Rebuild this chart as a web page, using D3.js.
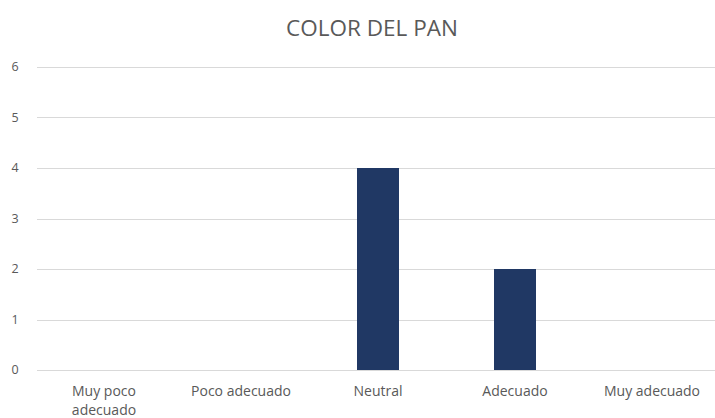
<!DOCTYPE html>
<html><head><meta charset="utf-8">
<script src="https://cdn.jsdelivr.net/npm/d3@7"></script>
<style>body{margin:0;background:#fff}svg{display:block}</style>
</head><body>
<script>
const categories = ["Muy poco adecuado", "Poco adecuado", "Neutral", "Adecuado", "Muy adecuado"];
const values = [0, 0, 4, 2, 0];
const yTicks = [0, 1, 2, 3, 4, 5, 6];
const title = "COLOR DEL PAN";

const W = 715, H = 418;
const svg = d3.select("body").append("svg").attr("width", W).attr("height", H);
const font = "'Open Sans', sans-serif";
const textColor = "#595959";

const x = d3.scaleBand().domain(categories).range([35.5, 720.5]).padding(0);
const y = d3.scaleLinear().domain([0, 6]).range([370, 67]);

// gridlines
svg.append("g").selectAll("line").data(yTicks).join("line")
  .attr("x1", 37).attr("x2", W)
  .attr("y1", d => Math.round(y(d)) + 0.5).attr("y2", d => Math.round(y(d)) + 0.5)
  .attr("stroke", "#d9d9d9").attr("stroke-width", 1);

// y labels
svg.append("g").selectAll("text").data(yTicks).join("text")
  .attr("x", 15).attr("y", d => y(d)).attr("dy", "0.35em")
  .attr("text-anchor", "middle")
  .attr("font-family", font).attr("font-size", 12.5).attr("fill", textColor)
  .text(d => d);

// bars
const bw = 42;
svg.append("g").selectAll("rect").data(categories.map((c, i) => ({c, v: values[i]})).filter(d => d.v > 0)).join("rect")
  .attr("x", d => x(d.c) + x.bandwidth() / 2 - bw / 2)
  .attr("width", bw)
  .attr("y", d => y(d.v))
  .attr("height", d => y(0) - y(d.v))
  .attr("fill", "#203864");

// x labels
const xl = svg.append("g");
categories.forEach(c => {
  const cx = x(c) + x.bandwidth() / 2;
  let lines = [c];
  if (c === "Muy poco adecuado") lines = ["Muy poco", "adecuado"];
  const t = xl.append("text").attr("x", cx).attr("y", 396)
    .attr("text-anchor", "middle")
    .attr("font-family", font).attr("font-size", 14).attr("fill", textColor);
  lines.forEach((l, i) => t.append("tspan").attr("x", cx).attr("dy", i === 0 ? 0 : 19).text(l));
});

// title
svg.append("text").attr("x", 372).attr("y", 36)
  .attr("text-anchor", "middle")
  .attr("font-family", font).attr("font-size", 22.5).attr("fill", textColor)
  .text(title);
</script>
</body></html>
